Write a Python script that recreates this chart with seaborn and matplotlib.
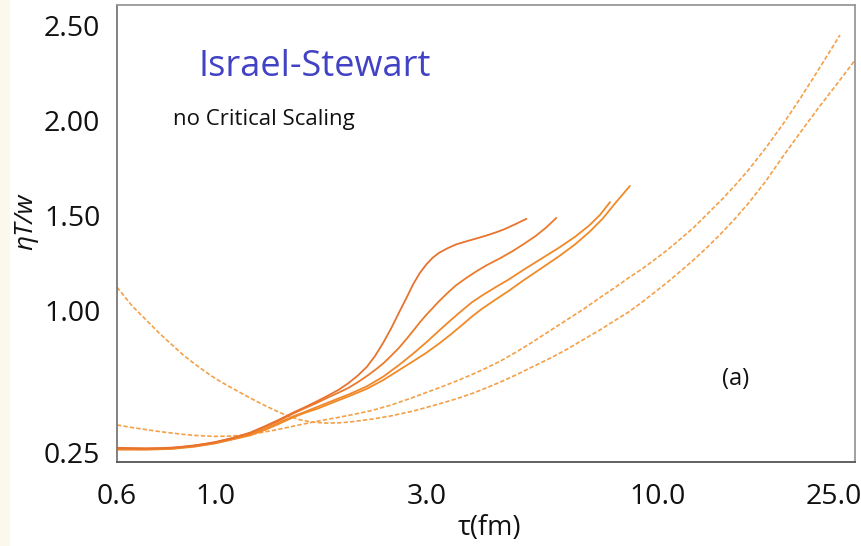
import matplotlib
matplotlib.use("Agg")
import matplotlib.pyplot as plt
import seaborn as sns
from matplotlib.patches import Rectangle
from matplotlib.ticker import FixedLocator, FixedFormatter, LogLocator, NullFormatter

# Solid trajectories: proper time tau (fm) and eta*T/w
tau_a = [0.6, 0.65, 0.7, 0.75, 0.8, 0.85, 0.9, 0.95, 1.0, 1.1, 1.2, 1.3, 1.4, 1.5,
         1.6, 1.7, 1.8, 1.9, 2.0, 2.1, 2.2, 2.3, 2.4, 2.5, 2.6, 2.7, 2.8, 2.9,
         3.0, 3.1, 3.2, 3.35, 3.5, 3.7, 3.9, 4.1, 4.3, 4.5, 4.75, 5.05]
eta_a = [0.275, 0.273, 0.272, 0.273, 0.276, 0.281, 0.288, 0.296, 0.305, 0.328,
         0.355, 0.39, 0.425, 0.46, 0.49, 0.52, 0.55, 0.58, 0.615, 0.655, 0.70,
         0.76, 0.83, 0.905, 0.985, 1.06, 1.135, 1.195, 1.24, 1.275, 1.30, 1.325,
         1.345, 1.362, 1.377, 1.392, 1.408, 1.425, 1.45, 1.48]

tau_b = [0.6, 0.7, 0.8, 0.9, 1.0, 1.1, 1.2, 1.3, 1.4, 1.5, 1.6, 1.7, 1.8, 1.9,
         2.0, 2.1, 2.2, 2.3, 2.4, 2.5, 2.6, 2.7, 2.8, 2.9, 3.0, 3.1, 3.2, 3.35,
         3.5, 3.7, 3.9, 4.1, 4.4, 4.7, 5.0, 5.3, 5.6, 5.9]
eta_b = [0.272, 0.270, 0.274, 0.286, 0.303, 0.326, 0.352, 0.385, 0.42, 0.455,
         0.485, 0.512, 0.54, 0.565, 0.59, 0.62, 0.652, 0.685, 0.72, 0.76, 0.80,
         0.845, 0.89, 0.935, 0.975, 1.01, 1.045, 1.09, 1.13, 1.17, 1.205, 1.235,
         1.272, 1.31, 1.35, 1.39, 1.435, 1.485]

tau_c = [0.6, 0.7, 0.8, 0.9, 1.0, 1.1, 1.2, 1.3, 1.4, 1.5, 1.6, 1.7, 1.8, 1.9,
         2.0, 2.2, 2.4, 2.6, 2.8, 3.0, 3.2, 3.4, 3.6, 3.8, 4.0, 4.3, 4.6, 5.0,
         5.5, 6.0, 6.5, 7.0, 7.4, 7.8]
eta_c = [0.268, 0.267, 0.271, 0.283, 0.300, 0.322, 0.345, 0.375, 0.41, 0.44,
         0.465, 0.49, 0.513, 0.535, 0.555, 0.598, 0.65, 0.71, 0.77, 0.83, 0.89,
         0.945, 0.995, 1.04, 1.075, 1.12, 1.16, 1.215, 1.275, 1.33, 1.385, 1.445,
         1.50, 1.568]

tau_d = [0.6, 0.7, 0.8, 0.9, 1.0, 1.1, 1.2, 1.3, 1.4, 1.5, 1.6, 1.7, 1.8, 1.9,
         2.0, 2.2, 2.4, 2.6, 2.8, 3.0, 3.2, 3.4, 3.6, 3.8, 4.0, 4.3, 4.6, 5.0,
         5.5, 6.0, 6.5, 7.0, 7.5, 8.0, 8.65]
eta_d = [0.265, 0.265, 0.269, 0.281, 0.298, 0.32, 0.34, 0.37, 0.403, 0.435,
         0.46, 0.48, 0.503, 0.525, 0.545, 0.585, 0.632, 0.683, 0.73, 0.775, 0.822,
         0.87, 0.918, 0.965, 1.005, 1.055, 1.10, 1.16, 1.225, 1.285, 1.345, 1.41,
         1.48, 1.56, 1.653]

# Dashed trajectories
tau_e = [0.6, 0.65, 0.7, 0.75, 0.8, 0.85, 0.9, 0.95, 1.0, 1.07, 1.15, 1.25, 1.35,
         1.47, 1.6, 1.75, 1.9, 2.0, 2.25, 2.5, 2.8, 3.2, 3.5, 3.8, 4.1, 4.4, 4.8,
         5.2, 5.7, 6.2, 6.8, 7.4, 8.0, 8.6, 9.2, 9.8, 10.5, 11.2, 12.0, 13.0,
         14.0, 15.0, 16.0, 17.5, 19.2, 21.0, 23.0, 25.8]
eta_e = [0.395, 0.381, 0.37, 0.36, 0.352, 0.345, 0.34, 0.337, 0.335, 0.336,
         0.341, 0.352, 0.366, 0.384, 0.402, 0.42, 0.435, 0.445, 0.47, 0.50, 0.54,
         0.59, 0.625, 0.66, 0.695, 0.73, 0.78, 0.83, 0.89, 0.945, 1.005, 1.065,
         1.118, 1.17, 1.215, 1.262, 1.315, 1.37, 1.43, 1.51, 1.585, 1.66, 1.735,
         1.85, 1.98, 2.115, 2.26, 2.447]

tau_f = [0.6, 0.65, 0.7, 0.75, 0.8, 0.85, 0.9, 0.95, 1.0, 1.07, 1.15, 1.25, 1.35,
         1.45, 1.55, 1.65, 1.78, 1.9, 2.0, 2.25, 2.5, 2.8, 3.2, 3.5, 3.8, 4.1,
         4.4, 4.8, 5.2, 5.7, 6.2, 6.8, 7.4, 8.0, 8.6, 9.2, 9.8, 10.5, 11.2, 12.0,
         13.0, 14.0, 15.0, 16.0, 17.5, 19.2, 21.0, 23.0, 25.5, 28.0]
eta_f = [1.12, 1.02, 0.945, 0.875, 0.815, 0.76, 0.715, 0.675, 0.64, 0.60, 0.56,
         0.515, 0.477, 0.445, 0.423, 0.41, 0.405, 0.406, 0.41, 0.425, 0.443,
         0.468, 0.505, 0.532, 0.56, 0.59, 0.62, 0.66, 0.70, 0.745, 0.79, 0.845,
         0.895, 0.945, 0.99, 1.04, 1.09, 1.145, 1.20, 1.26, 1.335, 1.41, 1.485,
         1.56, 1.675, 1.81, 1.935, 2.06, 2.195, 2.32]

x_ticks = [0.6, 1.0, 3.0, 10.0, 25.0]
x_tick_labels = ["0.6", "1.0", "3.0", "10.0", "25.0"]
y_ticks = [0.25, 1.00, 1.50, 2.00, 2.50]
y_tick_labels = ["0.25", "1.00", "1.50", "2.00", "2.50"]

sns.set_theme(style="white")
plt.rcParams["font.family"] = ["Open Sans", "DejaVu Sans"]

W, H = 861, 546
fig = plt.figure(figsize=(W / 100, H / 100), dpi=100)
fig.patch.set_facecolor("white")
fig.patches.append(Rectangle((0, 0), 10 / W, 1, transform=fig.transFigure,
                             facecolor="#FDF8EC", edgecolor="none", zorder=0))

ax = fig.add_axes([117 / W, 1 - 462 / H, 738 / W, 457.5 / H])
ax.set_facecolor("white")

for t, e in [(tau_e, eta_e), (tau_f, eta_f)]:
    sns.lineplot(x=t, y=e, ax=ax, color="#F4A048", lw=1.2, sort=False,
                 estimator=None)
    ax.lines[-1].set_dashes([2.6, 1.3])

solid = [(tau_d, eta_d, "#F08A28"), (tau_c, eta_c, "#F0882A"),
         (tau_b, eta_b, "#EB7A2C"), (tau_a, eta_a, "#E8732E")]
for t, e, c in solid:
    sns.lineplot(x=t, y=e, ax=ax, color=c, lw=1.3, sort=False,
                 estimator=None)

ax.set_xscale("log")
ax.set_xlim(0.6, 27.9)
ax.set_ylim(0.2, 2.608)

ax.xaxis.set_major_locator(FixedLocator(x_ticks))
ax.xaxis.set_major_formatter(FixedFormatter(x_tick_labels))
ax.yaxis.set_major_locator(FixedLocator(y_ticks))
ax.yaxis.set_major_formatter(FixedFormatter(y_tick_labels))

ax.tick_params(axis="both", which="major", direction="out", length=4, width=1,
               color="#777777", labelsize=20.5, labelcolor="#111111")
ax.minorticks_on()
ax.tick_params(axis="y", which="minor", left=False)
ax.xaxis.set_minor_locator(LogLocator(base=10, subs=[2, 3, 4, 5, 6, 7, 8, 9],
                                      numticks=20))
ax.xaxis.set_minor_formatter(NullFormatter())
ax.tick_params(axis="x", which="minor", direction="out", length=2.5, width=0.8,
               color="#888888")
ax.tick_params(axis="x", which="both", pad=11)
ax.tick_params(axis="y", which="major", pad=8)

for side, sp in ax.spines.items():
    sp.set_visible(True)
    sp.set_linewidth(1.3)
    sp.set_color("#999999")
ax.spines["bottom"].set_color("#555555")
ax.spines["left"].set_color("#777777")

ax.set_xlabel("")
ax.set_ylabel("")
fig.text(489 / W, 1 - 528 / H, "τ(fm)", ha="center", va="center",
         fontsize=19.5, color="#111111")
fig.text(26 / W, 1 - 222 / H, "ηT/w", ha="center", va="center",
         rotation=90, fontsize=19, fontstyle="italic", color="#111111")

fig.text(198 / W, 1 - 67 / H, "Israel-Stewart", ha="left", va="center",
         fontsize=26, color="#4242C4")
fig.text(173 / W, 1 - 119 / H, "no Critical Scaling", ha="left", va="center",
         fontsize=16, color="#111111")
fig.text(736 / W, 1 - 379 / H, "(a)", ha="center", va="center",
         fontsize=17, color="#111111")

fig.savefig("out.png", dpi=100)
